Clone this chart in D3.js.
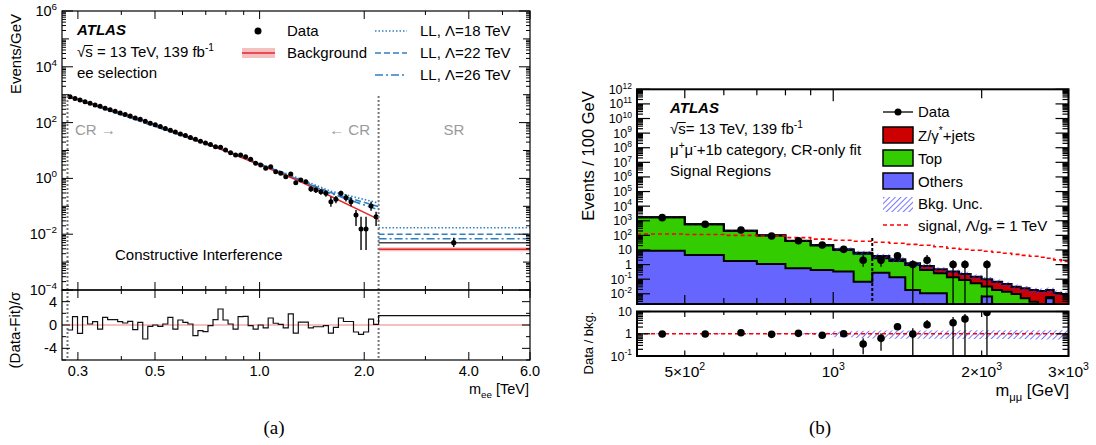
<!DOCTYPE html>
<html><head><meta charset="utf-8">
<script src="https://cdn.jsdelivr.net/npm/d3@7"></script>
<style>
body{margin:0;background:#fff}
svg{display:block}
text{font-family:"Liberation Sans", Arial, Helvetica, sans-serif;fill:#000}
</style></head>
<body><svg id="c" width="1096" height="445"></svg>
<script>
// ================= LEFT PANEL DATA (m_ee, TeV) =================
const eeCR = [0.28, 2.2];
const eeSR = [2.2, 6.0];
const eeData = [845,728,650,560,497,428,383,330,288,257,220,196,172,147,132,112,95,84,72.5,61,
  53.5,46.5,39,34.3,29.0,25.5,21.3,18.4,16.3,13.6,13.2,10.4,8.34,6.90,6.90,6.0,4.84,3.48,3.02,2.30,
  2.63,1.74,1.52,1.15,1.44,0.70,0.877,0.76,0.417,0.384,0.334,0.292,0.146,0.178,0.292,0.203,0.146,0.0488,0.0154,0.0154,
  0.1025,0.0424];
const eeErrFrom = 38;
const eeErrLo = [2.8,2.12,2.44,1.58,1.37,1.02,1.29,0.58,0.74,0.63,0.33,0.30,0.26,0.22,0.097,0.128,0.23,0.15,0.10,0.0196,0.0027,0.0027,0.0696,0.0196];
const eeErrHi = [3.25,2.5,2.84,1.91,1.68,1.29,1.6,0.83,1.03,0.90,0.52,0.48,0.42,0.37,0.221,0.234,0.36,0.27,0.21,0.074,0.0424,0.0424,0.146,0.064];
const eeResid = [-0.86,1.43,-1.43,1.43,0.17,0.57,-0.69,1.31,0.91,0.91,0.57,0.34,0.63,-0.8,0.46,-2.4,-0.23,0,-0.23,0.17,
  1.31,-0.69,0.86,0.46,0.17,-1.83,-0.97,-1.14,-0.11,0.91,2.74,0.86,0.17,-0.69,1.43,1.49,-0.11,-0.69,0,
  -0.5,1.2,0.3,0.1,-0.5,1.9,-1.4,0.5,0.5,-0.5,-0.3,-0.3,-0.1,-1.4,-0.4,1.2,0.6,0.6,-1.2,-1.6,-1.2,1.0,0.1];
const fitMass = [0.28, 0.453, 0.773, 1.30, 2.2];
const fitValue = [898, 129, 11.3, 0.81, 0.034];
const llMass = [0.28, 0.8, 1.0, 1.2, 1.6, 2.2];
const ll18 = [898, 9.8, 3.4, 1.45, 0.35, 0.131];
const ll22 = [898, 9.7, 3.3, 1.37, 0.31, 0.097];
const ll26 = [898, 9.6, 3.2, 1.32, 0.29, 0.074];
const srBkg = 0.00288, srBkgLo = 0.00243, srBkgHi = 0.00339;
const srLL = [0.0171, 0.0099, 0.0069];
const srDataMass = 3.62, srData = 0.00496, srDataLo = 0.0035, srDataHi = 0.0074;
const srResid = 1.6;
const eeTickVals = [0.3,0.4,0.5,0.6,0.7,0.8,0.9,1,2,3,4,5,6];
const eeTickLabels = {0.3:"0.3",0.5:"0.5",1:"1.0",2:"2.0",4:"4.0",6:"6.0"};
const eeDotLineTop = 900;

// ================= RIGHT PANEL DATA (m_mumu, GeV) =================
const mmEdges = [400,500,600,700,800,900,1000,1100,1200,1300,1400,1500,1600,1700,1800,1900,2000,2100,2200,2300,2400,2500,2600,2700,2800,2900,3000];
const mmOthers = [9.0,4.55,1.77,1.10,0.56,0.43,0.33,0.068,0.28,0.135,0.018,0.011,0.011,0,0,0,0.0064,0,0,0,0,0,0,0.005,0,0];
const mmTop = [1711,565,205,97,40.4,20.1,9.7,5.4,2.43,1.63,0.92,0.42,0.246,0.135,0.089,0.052,0.025,0.018,0.014,0.0098,0.005,0.0029,0.0015,0.001,0.0008,0.0005];
const mmZjets = [10,5,3,2,2,1.2,1.2,1.0,1.19,0.53,0.29,0.37,0.22,0.195,0.141,0.096,0.069,0.05,0.033,0.021,0.019,0.015,0.0143,0.0125,0.0107,0.0093];
const mmBkgUnc = [0.05,0.05,0.06,0.06,0.08,0.12,0.3,0.35,0.4,0.4,0.4,0.4,0.4,0.4,0.42,0.42,0.42,0.42,0.42,0.42,0.42,0.45,0.45,0.45,0.45,0.45];
const mmSignal = [125,115,100,90,70,55,46,40,34,29,24,21,16.5,13.2,11.2,9.6,8.2,7.0,6.0,5.0,4.3,3.7,3.2,2.7,2.1,1.66];
const mmData = [1630,575,234,91,43,22,11,2,2,4,1,2,0,1,1,0,1,0,0,0,0,0,0,0,0,0];
const mmDataLo = [1590,551,219,81.5,36.5,17.3,7.7,0.7,0.7,2.4,0.001,1.0,0,0.001,0.001,0,0.001,0,0,0,0,0,0,0,0,0];
const mmDataHi = [1670,599,249,101,50,27,15,4.6,4.6,6.0,2.0,4.5,0,2.0,2.0,0,2.0,0,0,0,0,0,0,0,0,0];
const mmRatio = [0.97,0.97,1.11,0.94,1.04,0.85,1.0,0.344,0.62,2.06,0.97,2.54,null,3.12,4.58,null,9.1,null,null,null,null,null,null,null,null,null];
const mmRatioLo = [0.94,0.94,1.05,0.88,0.9,0.7,0.75,0.12,0.17,1.47,0.01,1.75,null,0.01,0.01,null,0.01];
const mmRatioHi = [1.0,1.0,1.17,1.0,1.2,1.0,1.3,0.62,1.04,2.93,1.75,4.13,null,5.6,7.7,null,20];
const mmBoundary = 1200, mmBoundaryTop = 66;
const mmTickVals = [500,600,700,800,900,1000,2000,3000];
const mmTickLabels = {500:["5×10","2"],1000:["10","3"],2000:["2×10","3"],3000:["3×10","3"]};

// ================= helpers =================
const svg = d3.select("#c");
const defs = svg.append("defs");
function rich(g, x, y, parts, size, anchor){
  const t = g.append("text").attr("x",x).attr("y",y).attr("font-size",size).attr("text-anchor",anchor||"start");
  let shift = 0;
  parts.forEach(p=>{
    const s = Array.isArray(p)?p[0]:p, kind = Array.isArray(p)?p[1]:"n";
    const target = kind==="sup" ? -size*0.42 : kind==="sub" ? size*0.28 : 0;
    const ts = t.append("tspan").text(s).attr("dy", target-shift);
    if(kind!=="n") ts.attr("font-size", size*0.68);
    shift = target;
  });
  return t;
}
function logTicks(lo, hi){
  const out=[];
  for(let e=Math.floor(Math.log10(lo)); e<=Math.ceil(Math.log10(hi)); e++){
    for(let m=1;m<10;m++){const v=m*Math.pow(10,e); if(v>=lo*0.999 && v<=hi*1.001) out.push({v, major:m===1, e});}
  }
  return out;
}
function clip(id,x,y,w,h){defs.append("clipPath").attr("id",id).append("rect").attr("x",x).attr("y",y).attr("width",w).attr("height",h);}
function vline(g,x,y1,y2,sw){g.append("line").attr("x1",x).attr("x2",x).attr("y1",y1).attr("y2",y2).attr("stroke","#000").attr("stroke-width",sw||1);}
function hline(g,y,x1,x2,sw){g.append("line").attr("x1",x1).attr("x2",x2).attr("y1",y).attr("y2",y).attr("stroke","#000").attr("stroke-width",sw||1);}

// hatch pattern
const pat = defs.append("pattern").attr("id","hatch").attr("patternUnits","userSpaceOnUse")
  .attr("width",4).attr("height",4).attr("patternTransform","rotate(45)");
pat.append("line").attr("x1",0).attr("y1",0).attr("x2",0).attr("y2",4).attr("stroke","#2a2aff").attr("stroke-width",1.3);

// ================= LEFT PANEL =================
const L = {x0:62, x1:530, y0:11, y1:290, r1:360};
const xL = d3.scaleLog().domain([0.27, 6.0]).range([L.x0, L.x1]);
const yL = d3.scaleLog().domain([1e-4, 1e6]).range([L.y1, L.y0]).clamp(true);
const yLR = d3.scaleLinear().domain([-6, 6]).range([L.r1, L.y1]);
clip("clipL", L.x0, L.y0, L.x1-L.x0, L.y1-L.y0);
clip("clipLR", L.x0, L.y1, L.x1-L.x0, L.r1-L.y1);
const gL = svg.append("g");
const gLm = gL.append("g").attr("clip-path","url(#clipL)");
const eeEdges = d3.range(eeData.length+1).map(k=>eeCR[0]*Math.pow(eeCR[1]/eeCR[0], k/eeData.length));
const eeCenters = eeData.map((d,i)=>Math.sqrt(eeEdges[i]*eeEdges[i+1]));
const blue = "#2f7fc3", red = "#e3262e", pink = "#f6c0c0";
const llStyles = [[ll18, srLL[0], "1.5,2"], [ll22, srLL[1], "6,3"], [ll26, srLL[2], "8,3,2,3"]];

// SR
gLm.append("rect").attr("x",xL(eeSR[0])).attr("width",xL(eeSR[1])-xL(eeSR[0]))
  .attr("y",yL(srBkgHi)).attr("height",yL(srBkgLo)-yL(srBkgHi)).attr("fill",pink);
gLm.append("line").attr("x1",xL(eeSR[0])).attr("x2",xL(eeSR[1])).attr("y1",yL(srBkg)).attr("y2",yL(srBkg)).attr("stroke",red).attr("stroke-width",1.5);
llStyles.forEach(s=>{
  gLm.append("line").attr("x1",xL(eeSR[0])).attr("x2",xL(eeSR[1])).attr("y1",yL(s[1])).attr("y2",yL(s[1]))
    .attr("stroke",blue).attr("stroke-width",1.6).attr("stroke-dasharray",s[2]);
});
gLm.append("line").attr("x1",xL(eeSR[0])).attr("x2",xL(eeSR[1])).attr("y1",yL(srData)).attr("y2",yL(srData)).attr("stroke","#444").attr("stroke-width",1.4);
gLm.append("line").attr("x1",xL(srDataMass)).attr("x2",xL(srDataMass)).attr("y1",yL(srDataLo)).attr("y2",yL(srDataHi)).attr("stroke","#000").attr("stroke-width",1.4);
gLm.append("circle").attr("cx",xL(srDataMass)).attr("cy",yL(srData)).attr("r",2.6).attr("fill","#000");

// CR curves
const lineL = d3.line().x(d=>xL(d[0])).y(d=>yL(d[1]));
llStyles.forEach(s=>{
  gLm.append("path").attr("d",lineL(llMass.map((m,i)=>[m,s[0][i]]))).attr("fill","none")
    .attr("stroke",blue).attr("stroke-width",1.6).attr("stroke-dasharray",s[2]);
});
gLm.append("path").attr("d",lineL(fitMass.map((m,i)=>[m,fitValue[i]]))).attr("fill","none").attr("stroke",red).attr("stroke-width",1.5);
eeErrLo.forEach((lo,j)=>{
  const i=eeErrFrom+j;
  gLm.append("line").attr("x1",xL(eeCenters[i])).attr("x2",xL(eeCenters[i])).attr("y1",yL(lo)).attr("y2",yL(eeErrHi[j])).attr("stroke","#000").attr("stroke-width",1.4);
});
gLm.selectAll("circle.d").data(eeData).join("circle").attr("class","d")
  .attr("cx",(d,i)=>xL(eeCenters[i])).attr("cy",d=>yL(d)).attr("r",2.5).attr("fill","#000");

// dotted CR/SR lines
[eeCR[0], eeCR[1]].forEach(m=>{
  gL.append("line").attr("x1",xL(m)).attr("x2",xL(m)).attr("y1",yL(eeDotLineTop)).attr("y2",L.r1)
    .attr("stroke","#777").attr("stroke-width",2).attr("stroke-dasharray","2,2");
});

// ratio
const gLr = gL.append("g").attr("clip-path","url(#clipLR)");
gLr.append("line").attr("x1",L.x0).attr("x2",L.x1).attr("y1",yLR(0)).attr("y2",yLR(0)).attr("stroke",pink).attr("stroke-width",2);
const stepPts = [];
eeResid.forEach((r,i)=>{stepPts.push([eeEdges[i],r]);stepPts.push([eeEdges[i+1],r]);});
stepPts.push([eeSR[0],srResid]); stepPts.push([eeSR[1],srResid]);
gLr.append("path").attr("d",d3.line().x(d=>xL(d[0])).y(d=>yLR(d[1]))(stepPts)).attr("fill","none").attr("stroke","#111").attr("stroke-width",1.2);

// frames
gL.append("rect").attr("x",L.x0).attr("y",L.y0).attr("width",L.x1-L.x0).attr("height",L.y1-L.y0).attr("fill","none").attr("stroke","#000").attr("stroke-width",1.2);
gL.append("rect").attr("x",L.x0).attr("y",L.y1).attr("width",L.x1-L.x0).attr("height",L.r1-L.y1).attr("fill","none").attr("stroke","#000").attr("stroke-width",1.2);

// x ticks
eeTickVals.forEach(v=>{
  const x=xL(v), len = eeTickLabels[v]?8:4;
  vline(gL,x,L.y0,L.y0+len); vline(gL,x,L.y1-len,L.y1+len); vline(gL,x,L.r1-len,L.r1);
  if(eeTickLabels[v]) gL.append("text").attr("x",x).attr("y",376).attr("text-anchor","middle").attr("font-size",14.5).text(eeTickLabels[v]);
});
// y ticks main
logTicks(1e-4,1e6).forEach(t=>{
  const y=yL(t.v); const len = t.major ? (t.e%2===0?11:7) : 4;
  hline(gL,y,L.x0,L.x0+len); hline(gL,y,L.x1-len,L.x1);
  if(t.major && t.e%2===0){
    rich(gL,57,y+5,["10",[String(t.e).replace("-","\u2212"),"sup"]],14.5,"end");
  }
});
// y ticks ratio
[-6,-4,-2,0,2,4,6].forEach(v=>{
  const y=yLR(v), len=(v%4===0 && Math.abs(v)<6)?8:4;
  hline(gL,y,L.x0,L.x0+len); hline(gL,y,L.x1-len,L.x1);
  if(v%4===0 && Math.abs(v)<6) gL.append("text").attr("x",57).attr("y",y+5).attr("text-anchor","end").attr("font-size",14.5).text(String(v));
});
// labels
gL.append("text").attr("transform","translate(21,54) rotate(-90)").attr("text-anchor","middle").attr("font-size",15).text("Events/GeV");
gL.append("text").attr("transform","translate(20,330) rotate(-90)").attr("text-anchor","middle").attr("font-size",15).text("(Data-Fit)/σ");
rich(gL,529,394,["m",["ee","sub"]," [TeV]"],14.5,"end");
gL.append("text").attr("x",274).attr("y",434).attr("text-anchor","middle").attr("font-size",19).attr("style","font-family:'Liberation Serif',serif").text("(a)");
gL.append("text").attr("x",77).attr("y",35).attr("font-size",15).attr("font-weight","bold").attr("font-style","italic").text("ATLAS");
{
  rich(gL,77,57,["√s = 13 TeV, 139 fb",["-1","sup"]],15,"start");
  const sq = gL.append("text").attr("font-size",15).attr("x",-100).attr("y",-100).text("√");
  const sw = sq.node().getComputedTextLength(); sq.remove();
  gL.append("line").attr("x1",77+sw-0.5).attr("x2",77+sw+7.5).attr("y1",45.5).attr("y2",45.5).attr("stroke","#000").attr("stroke-width",1);
}
gL.append("text").attr("x",77).attr("y",78).attr("font-size",15).text("ee selection");
// legend
gL.append("circle").attr("cx",258).attr("cy",31).attr("r",3.5).attr("fill","#000");
gL.append("text").attr("x",287).attr("y",36).attr("font-size",15).text("Data");
gL.append("rect").attr("x",242).attr("y",48).attr("width",33).attr("height",10).attr("fill",pink);
gL.append("line").attr("x1",242).attr("x2",275).attr("y1",53).attr("y2",53).attr("stroke",red).attr("stroke-width",1.4);
gL.append("text").attr("x",287).attr("y",58).attr("font-size",15).text("Background");
["LL, Λ=18 TeV","LL, Λ=22 TeV","LL, Λ=26 TeV"].forEach((s,i)=>{
  const y=31+22*i;
  gL.append("line").attr("x1",375).attr("x2",407).attr("y1",y).attr("y2",y).attr("stroke",blue).attr("stroke-width",1.6).attr("stroke-dasharray",llStyles[i][2]);
  gL.append("text").attr("x",420).attr("y",y+5).attr("font-size",15).text(s);
});
gL.append("text").attr("x",75).attr("y",135).attr("font-size",15).style("fill","#9a9a9a").text("CR →");
gL.append("text").attr("x",370).attr("y",135).attr("font-size",15).attr("text-anchor","end").style("fill","#9a9a9a").text("← CR");
gL.append("text").attr("x",454).attr("y",135).attr("font-size",15).attr("text-anchor","middle").style("fill","#9a9a9a").text("SR");
gL.append("text").attr("x",115).attr("y",260).attr("font-size",15).text("Constructive Interference");

// ================= RIGHT PANEL =================
const R = {x0:637, x1:1068.5, y0:89.3, y1:304, r0:311.5, r1:356};
const xR = d3.scaleLog().domain([400,3000]).range([R.x0,R.x1]);
const yR = d3.scaleLog().domain([2e-3,1e12]).range([R.y1,R.y0]).clamp(true);
const yRR = d3.scaleLog().domain([0.1,10]).range([R.r1,R.r0]).clamp(true);
clip("clipR",R.x0,R.y0,R.x1-R.x0,R.y1-R.y0);
clip("clipRR",R.x0,R.r0,R.x1-R.x0,R.r1-R.r0);
const gR = svg.append("g");
const gRm = gR.append("g").attr("clip-path","url(#clipR)");
const safe = v=>Math.max(v,1e-5);
const cumO = mmOthers.slice();
const cumT = mmOthers.map((o,i)=>o+mmTop[i]);
const cumZ = cumT.map((t,i)=>t+mmZjets[i]);
function stepArea(lo,hi){
  const pts=[]; lo.forEach((l,i)=>{pts.push([mmEdges[i],l,hi[i]]);pts.push([mmEdges[i+1],l,hi[i]]);});
  return d3.area().x(d=>xR(d[0])).y0(d=>yR(safe(d[1]))).y1(d=>yR(safe(d[2])))(pts);
}
function stepLine(vals, yS){
  const pts=[]; vals.forEach((v,i)=>{pts.push([mmEdges[i],v]);pts.push([mmEdges[i+1],v]);});
  return d3.line().x(d=>xR(d[0])).y(d=>yS(safe(d[1])))(pts);
}
const zeros = mmOthers.map(()=>1e-6);
const cRed="#cc0000", cGreen="#33cc00", cBlue="#6666ff";
gRm.append("path").attr("d",stepArea(cumT,cumZ)).attr("fill",cRed);
gRm.append("path").attr("d",stepArea(cumO,cumT)).attr("fill",cGreen);
gRm.append("path").attr("d",stepArea(zeros,cumO)).attr("fill",cBlue);
[cumO,cumT,cumZ].forEach(c=>gRm.append("path").attr("d",stepLine(c,yR)).attr("fill","none").attr("stroke","#000").attr("stroke-width",2));
gRm.append("path").attr("d",stepArea(cumZ.map((v,i)=>v*(1-mmBkgUnc[i])),cumZ.map((v,i)=>v*(1+mmBkgUnc[i])))).attr("fill","url(#hatch)");
gRm.append("path").attr("d",stepLine(mmSignal,yR)).attr("fill","none").attr("stroke","#ff0000").attr("stroke-width",1.6).attr("stroke-dasharray","4,3");
gRm.append("line").attr("x1",xR(mmBoundary)).attr("x2",xR(mmBoundary)).attr("y1",yR(mmBoundaryTop)).attr("y2",R.y1)
  .attr("stroke","#000").attr("stroke-width",2).attr("stroke-dasharray","3,2");
const mmCenters = mmData.map((d,i)=>(mmEdges[i]+mmEdges[i+1])/2);
mmData.forEach((d,i)=>{
  if(!d) return;
  const x=xR(mmCenters[i]);
  gRm.append("line").attr("x1",x).attr("x2",x).attr("y1",yR(safe(mmDataLo[i]))).attr("y2",yR(mmDataHi[i])).attr("stroke","#000").attr("stroke-width",1.3);
  gRm.append("circle").attr("cx",x).attr("cy",yR(d)).attr("r",3.8).attr("fill","#000");
});
// ratio
const gRr = gR.append("g").attr("clip-path","url(#clipRR)");
gRr.append("path").attr("d",(()=>{
  const pts=[]; mmBkgUnc.forEach((u,i)=>{pts.push([mmEdges[i],1-u,1+u]);pts.push([mmEdges[i+1],1-u,1+u]);});
  return d3.area().x(d=>xR(d[0])).y0(d=>yRR(d[1])).y1(d=>yRR(d[2]))(pts);
})()).attr("fill","url(#hatch)");
gRr.append("line").attr("x1",R.x0).attr("x2",R.x1).attr("y1",yRR(1)).attr("y2",yRR(1)).attr("stroke","#ff0000").attr("stroke-width",1.4).attr("stroke-dasharray","4,3");
mmRatio.forEach((r,i)=>{
  if(r==null) return;
  const x=xR(mmCenters[i]);
  gRr.append("line").attr("x1",x).attr("x2",x).attr("y1",yRR(mmRatioLo[i])).attr("y2",yRR(mmRatioHi[i])).attr("stroke","#000").attr("stroke-width",1.3);
  gRr.append("circle").attr("cx",x).attr("cy",yRR(r)).attr("r",3.8).attr("fill","#000");
});
// frames
gR.append("rect").attr("x",R.x0).attr("y",R.y0).attr("width",R.x1-R.x0).attr("height",R.y1-R.y0).attr("fill","none").attr("stroke","#000").attr("stroke-width",2);
gR.append("rect").attr("x",R.x0).attr("y",R.r0).attr("width",R.x1-R.x0).attr("height",R.r1-R.r0).attr("fill","none").attr("stroke","#000").attr("stroke-width",2);
// y ticks main
logTicks(2e-3,1e12).forEach(t=>{
  const y=yR(t.v), len=t.major?13:6;
  hline(gR,y,R.x0,R.x0+len,1.2); hline(gR,y,R.x1-len,R.x1,1.2);
  if(t.major){
    let parts;
    if(t.e===0) parts=["1"]; else if(t.e===1) parts=["10"]; else parts=["10",[String(t.e),"sup"]];
    rich(gR,632,y+4.5,parts,12.5,"end");
  }
});
// ratio y ticks
logTicks(0.1,10).forEach(t=>{
  const y=yRR(t.v), len=t.major?13:6;
  hline(gR,y,R.x0,R.x0+len,1.2); hline(gR,y,R.x1-len,R.x1,1.2);
  if(t.major){
    const parts = t.e===1?["10"]:t.e===0?["1"]:["10",["-1","sup"]];
    rich(gR,632,y+4.5,parts,12.5,"end");
  }
});
// x ticks
mmTickVals.forEach(v=>{
  const x=xR(v), len = v===1000?12:(mmTickLabels[v]?9:6);
  vline(gR,x,R.y0,R.y0+len,1.2); vline(gR,x,R.y1-len,R.y1,1.2);
  vline(gR,x,R.r0,R.r0+len*0.6,1.2); vline(gR,x,R.r1-len*0.6,R.r1,1.2);
  if(mmTickLabels[v]) rich(gR,x,377,[mmTickLabels[v][0],[mmTickLabels[v][1],"sup"]],15.5,"middle");
});
gR.append("text").attr("transform","translate(594,156) rotate(-90)").attr("text-anchor","middle").attr("font-size",16.5).text("Events / 100 GeV");
gR.append("text").attr("transform","translate(593,343) rotate(-90)").attr("text-anchor","middle").attr("font-size",13).text("Data / bkg.");
rich(gR,1069,396,["m",["μμ","sub"]," [GeV]"],16.5,"end");
gR.append("text").attr("x",820).attr("y",434).attr("text-anchor","middle").attr("font-size",19).attr("style","font-family:'Liberation Serif',serif").text("(b)");
gR.append("text").attr("x",670).attr("y",113).attr("font-size",15).attr("font-weight","bold").attr("font-style","italic").text("ATLAS");
{
  rich(gR,670,134,["√s= 13 TeV, 139 fb",["-1","sup"]],15,"start");
  const sq = gR.append("text").attr("font-size",15).attr("x",-100).attr("y",-100).text("√");
  const sw = sq.node().getComputedTextLength(); sq.remove();
  gR.append("line").attr("x1",670+sw-0.5).attr("x2",670+sw+7.5).attr("y1",122.5).attr("y2",122.5).attr("stroke","#000").attr("stroke-width",1);
}
rich(gR,670,155,["μ",["+","sup"],"μ",["-","sup"],"+1b category, CR-only fit"],15,"start");
gR.append("text").attr("x",670).attr("y",176).attr("font-size",15).text("Signal Regions");
// legend
const lgx=883, lgw=30, ltx=918;
gR.append("line").attr("x1",lgx).attr("x2",lgx+lgw).attr("y1",112).attr("y2",112).attr("stroke","#000").attr("stroke-width",1.3);
gR.append("circle").attr("cx",lgx+lgw/2).attr("cy",112).attr("r",3.5).attr("fill","#000");
gR.append("text").attr("x",ltx).attr("y",117).attr("font-size",15).text("Data");
[[cRed,127,["Z/γ",["*","sup"],"+jets"]],[cGreen,150,["Top"]],[cBlue,173,["Others"]]].forEach(d=>{
  gR.append("rect").attr("x",lgx).attr("y",d[1]).attr("width",lgw).attr("height",16).attr("fill",d[0]).attr("stroke","#000").attr("stroke-width",1.5);
  rich(gR,ltx,d[1]+13.5,d[2],15,"start");
});
gR.append("rect").attr("x",lgx).attr("y",197).attr("width",lgw).attr("height",15).attr("fill","url(#hatch)");
gR.append("text").attr("x",ltx).attr("y",209).attr("font-size",15).text("Bkg. Unc.");
gR.append("line").attr("x1",lgx).attr("x2",lgx+28).attr("y1",225).attr("y2",225).attr("stroke","#ff0000").attr("stroke-width",1.6).attr("stroke-dasharray","4,3");
rich(gR,ltx,231,["signal, Λ/g",["*","sub"]," = 1 TeV"],15,"start");
</script></body></html>
